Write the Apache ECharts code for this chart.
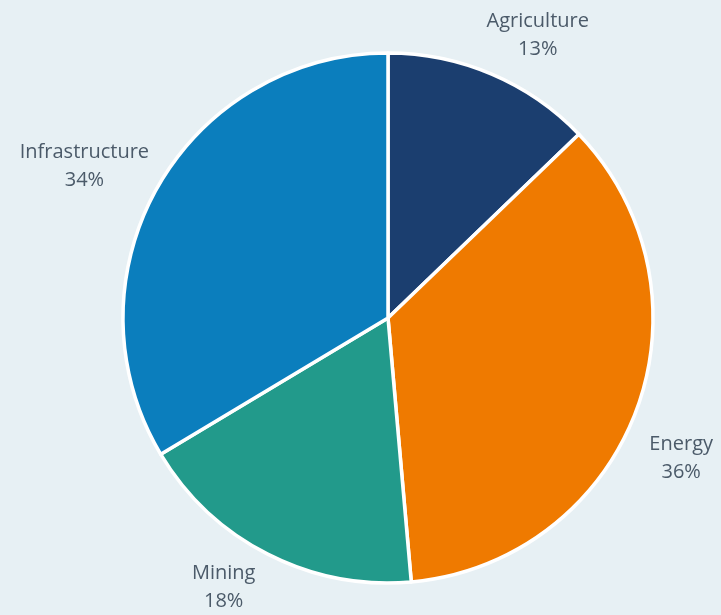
<!DOCTYPE html>
<html>
<head>
<meta charset="utf-8">
<script src="https://cdn.jsdelivr.net/npm/echarts@6/dist/echarts.min.js"></script>
<style>
  html, body { margin: 0; padding: 0; background: #e7f0f4; }
  #chart { width: 721px; height: 615px; }
</style>
</head>
<body>
<div id="chart"></div>
<script>
// ---- data ----
const categories = ['Agriculture', 'Energy', 'Mining', 'Infrastructure'];
const shares = [12.8, 35.8, 17.8, 33.6];

// ---- style / layout ----
const sliceColors = ['#1b3e6f', '#ef7a00', '#229a8b', '#0b7ebd'];
const CX = 388, CY = 318, R = 265;
// label offsets relative to the arc point at each slice's mid-angle
const labelNudge = [[46, -39], [45, 47], [-44, 33], [-73, -21]];

const total = shares.reduce((a, b) => a + b, 0);

const chart = echarts.init(document.getElementById('chart'), null, { renderer: 'canvas' });
chart.setOption({
  backgroundColor: '#e7f0f4',
  animation: false,
  series: [{
    type: 'pie',
    center: [CX, CY],
    radius: R,
    startAngle: 90,
    clockwise: true,
    avoidLabelOverlap: false,
    itemStyle: { borderColor: '#ffffff', borderWidth: 3.5 },
    label: {
      show: true,
      position: 'outside',
      formatter: p => p.name + '\n' + Math.round(p.percent) + '%',
      fontFamily: 'Open Sans',
      fontSize: 20,
      lineHeight: 28,
      color: '#4b5a69',
      align: 'center'
    },
    labelLine: { show: false },
    labelLayout: function (p) {
      const i = p.dataIndex;
      let cum = 0;
      for (let j = 0; j < i; j++) cum += shares[j];
      const mid = (cum + shares[i] / 2) / total * Math.PI * 2;
      const ax = CX + R * Math.sin(mid);
      const ay = CY - R * Math.cos(mid);
      return {
        x: ax + labelNudge[i][0],
        y: ay + labelNudge[i][1],
        align: 'center',
        verticalAlign: 'middle'
      };
    },
    data: categories.map((c, i) => ({
      name: c,
      value: shares[i],
      itemStyle: { color: sliceColors[i] }
    }))
  }]
});
</script>
</body>
</html>
